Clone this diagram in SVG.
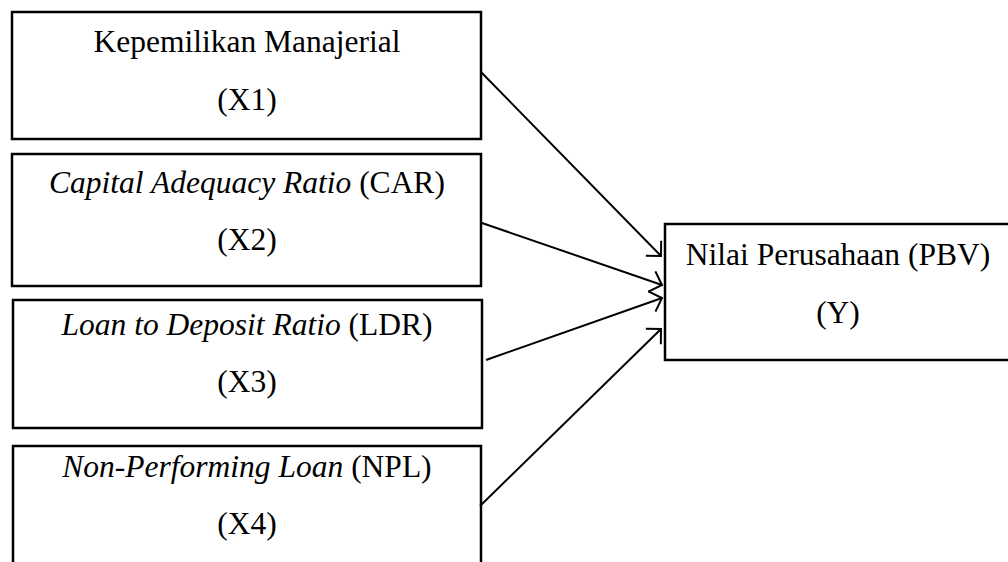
<svg xmlns="http://www.w3.org/2000/svg" width="1008" height="562" viewBox="0 0 1008 562">
  <defs>
    <style>
      .box { fill: #ffffff; stroke: #000000; stroke-width: 2.5; }
      .lbl { font-family: "Liberation Serif", "Times New Roman", serif; font-size: 31.5px; fill: #000000; text-anchor: middle; }
      .it { font-style: italic; }
      .edge { fill: none; stroke: #000000; stroke-width: 2; marker-end: url(#head); }
    </style>
    <!-- open V arrowhead -->
    <marker id="head" markerUnits="userSpaceOnUse" markerWidth="24" markerHeight="24" refX="11" refY="11" orient="auto" overflow="visible">
      <path d="M1,1 L11,11 L1,21" fill="none" stroke="#000000" stroke-width="2" stroke-linecap="square"/>
    </marker>
  </defs>

  <rect width="1008" height="562" fill="#ffffff"/>

  <g id="x1">
    <rect class="box" x="12" y="12" width="469" height="127"/>
    <text class="lbl" x="247" y="52">Kepemilikan Manajerial</text>
    <text class="lbl" x="247" y="110">(X1)</text>
  </g>

  <g id="x2">
    <rect class="box" x="12" y="154" width="469" height="132"/>
    <text class="lbl" x="247" y="193"><tspan class="it">Capital Adequacy Ratio</tspan> (CAR)</text>
    <text class="lbl" x="247" y="250">(X2)</text>
  </g>

  <g id="x3">
    <rect class="box" x="13" y="300" width="469" height="128"/>
    <text class="lbl" x="247" y="335"><tspan class="it">Loan to Deposit Ratio</tspan> (LDR)</text>
    <text class="lbl" x="247" y="392">(X3)</text>
  </g>

  <g id="x4">
    <rect class="box" x="13" y="446" width="468" height="130"/>
    <text class="lbl" x="247" y="477"><tspan class="it">Non-Performing Loan</tspan> (NPL)</text>
    <text class="lbl" x="247" y="534">(X4)</text>
  </g>

  <g id="y">
    <rect class="box" x="665" y="224" width="350" height="136"/>
    <text class="lbl" x="838" y="265">Nilai Perusahaan (PBV)</text>
    <text class="lbl" x="838" y="323">(Y)</text>
  </g>

  <g id="connectors">
    <line class="edge" x1="481" y1="72" x2="661" y2="256"/>
    <line class="edge" x1="482" y1="223" x2="662" y2="285"/>
    <line class="edge" x1="486" y1="360" x2="662" y2="298"/>
    <line class="edge" x1="480" y1="506" x2="661" y2="329"/>
  </g>
</svg>
